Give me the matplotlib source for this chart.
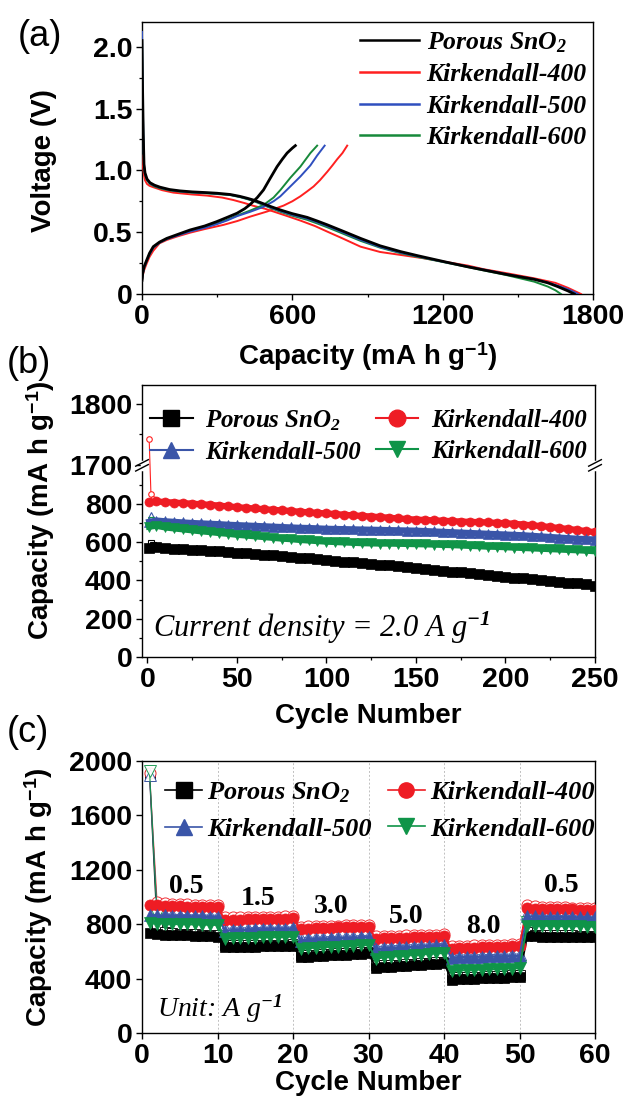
import numpy as np
import matplotlib
matplotlib.use("Agg")
import matplotlib.pyplot as plt
from matplotlib.lines import Line2D
from matplotlib.font_manager import FontProperties

plt.rcParams.update({
    "font.family": "Liberation Sans",
    "font.weight": "bold",
    "mathtext.fontset": "custom",
    "mathtext.rm": "Liberation Serif:italic",
    "mathtext.it": "Liberation Serif:italic",
    "mathtext.bf": "Liberation Serif:italic:bold",
    "mathtext.sf": "Liberation Sans:bold",
    "xtick.direction": "out",
    "ytick.direction": "out",
    "xtick.major.size": 4,
    "ytick.major.size": 4,
    "xtick.minor.size": 2.5,
    "ytick.minor.size": 2.5,
    "xtick.major.width": 1.0,
    "ytick.major.width": 1.0,
    "xtick.minor.width": 0.9,
    "ytick.minor.width": 0.9,
    "axes.linewidth": 1.0,
})

# ---------------- data ----------------
samples = ["Porous SnO$_\\mathbf{2}$", "Kirkendall-400", "Kirkendall-500", "Kirkendall-600"]
colors_a = ["#000000", "#ff2020", "#2f4fbf", "#17893a"]
colors_c = ["#000000", "#ee1c24", "#3a55a8", "#0f9448"]
markers = ["s", "o", "^", "v"]

# (a) discharge / charge profiles (capacity mAh/g, voltage V)
dis_cap_black = [0, 2, 5, 8, 12, 20, 32, 50, 72, 110, 152, 200, 259, 300, 352, 390, 419, 445, 472, 510, 552, 600, 659, 700, 739, 800, 872, 950, 1032, 1100, 1205, 1300, 1365, 1450, 1565, 1620, 1659, 1700, 1725]
dis_v_black = [2.05, 1.70, 1.30, 1.05, 0.98, 0.93, 0.90, 0.88, 0.864, 0.845, 0.834, 0.826, 0.82, 0.815, 0.805, 0.79, 0.775, 0.76, 0.74, 0.71, 0.68, 0.65, 0.62, 0.59, 0.56, 0.51, 0.45, 0.39, 0.343, 0.31, 0.262, 0.22, 0.194, 0.16, 0.119, 0.09, 0.06, 0.025, 0.0]
dis_cap_red = [0, 3, 8, 12, 20, 30, 45, 80, 125, 200, 259, 320, 365, 410, 445, 490, 525, 580, 632, 690, 739, 800, 872, 950, 1032, 1120, 1205, 1300, 1365, 1450, 1565, 1650, 1700, 1752]
dis_v_red = [1.12, 1.05, 0.96, 0.92, 0.89, 0.875, 0.864, 0.84, 0.82, 0.805, 0.796, 0.78, 0.76, 0.735, 0.713, 0.69, 0.667, 0.63, 0.594, 0.55, 0.505, 0.45, 0.383, 0.34, 0.316, 0.29, 0.262, 0.23, 0.20, 0.17, 0.127, 0.09, 0.05, 0.0]
dis_cap_blue = [0, 2, 5, 8, 12, 20, 32, 50, 72, 110, 152, 200, 259, 300, 352, 390, 419, 445, 472, 510, 552, 600, 659, 700, 739, 800, 872, 950, 1032, 1100, 1205, 1300, 1365, 1450, 1565, 1620, 1670, 1710, 1740]
dis_v_blue = [2.12, 1.72, 1.30, 1.04, 0.97, 0.925, 0.895, 0.875, 0.86, 0.842, 0.831, 0.823, 0.817, 0.812, 0.803, 0.787, 0.772, 0.756, 0.735, 0.703, 0.672, 0.64, 0.61, 0.58, 0.55, 0.50, 0.438, 0.38, 0.335, 0.305, 0.26, 0.222, 0.196, 0.162, 0.12, 0.093, 0.06, 0.03, 0.0]
dis_cap_green = [0, 2, 5, 8, 12, 20, 32, 50, 72, 110, 152, 200, 259, 300, 352, 390, 419, 445, 472, 510, 552, 600, 659, 700, 739, 800, 872, 950, 1032, 1100, 1205, 1300, 1365, 1450, 1565, 1620, 1650, 1672]
dis_v_green = [2.08, 1.70, 1.28, 1.03, 0.965, 0.92, 0.89, 0.87, 0.855, 0.838, 0.828, 0.82, 0.814, 0.808, 0.8, 0.784, 0.768, 0.752, 0.73, 0.698, 0.665, 0.633, 0.60, 0.57, 0.54, 0.49, 0.43, 0.375, 0.33, 0.30, 0.257, 0.218, 0.19, 0.155, 0.10, 0.06, 0.03, 0.0]

chg_cap_black = [0, 3, 8, 19, 30, 45, 70, 99, 140, 192, 250, 299, 340, 379, 410, 432, 460, 485, 510, 539, 560, 579, 600, 612]
chg_v_black = [0.11, 0.17, 0.22, 0.275, 0.33, 0.383, 0.42, 0.45, 0.48, 0.518, 0.55, 0.586, 0.62, 0.653, 0.69, 0.725, 0.78, 0.842, 0.93, 1.03, 1.09, 1.14, 1.18, 1.2]
chg_cap_red = [0, 3, 8, 19, 30, 45, 70, 99, 140, 192, 250, 325, 380, 432, 499, 565, 600, 632, 659, 685, 710, 740, 760, 779, 800, 819]
chg_v_red = [0.11, 0.15, 0.19, 0.248, 0.30, 0.35, 0.41, 0.437, 0.465, 0.496, 0.525, 0.559, 0.59, 0.626, 0.667, 0.715, 0.75, 0.79, 0.83, 0.87, 0.92, 0.99, 1.04, 1.09, 1.14, 1.2]
chg_cap_blue = [0, 3, 8, 19, 30, 45, 70, 99, 140, 192, 250, 299, 340, 380, 432, 485, 525, 552, 592, 632, 672, 699, 729]
chg_v_blue = [0.11, 0.16, 0.21, 0.27, 0.32, 0.375, 0.415, 0.445, 0.472, 0.505, 0.535, 0.565, 0.595, 0.63, 0.665, 0.705, 0.75, 0.79, 0.87, 0.95, 1.04, 1.12, 1.2]
chg_cap_green = [0, 3, 8, 19, 30, 45, 70, 99, 140, 192, 250, 299, 340, 380, 432, 485, 525, 552, 592, 632, 672, 699]
chg_v_green = [0.11, 0.16, 0.21, 0.27, 0.32, 0.375, 0.415, 0.445, 0.475, 0.51, 0.54, 0.57, 0.60, 0.635, 0.675, 0.72, 0.78, 0.84, 0.94, 1.03, 1.14, 1.2]

# (b) cycling at 2.0 A/g (cycle 1, then every 5th cycle)
cycles_b = [1] + list(range(5, 251, 5))
cap_b_black = [570, 572, 568, 566, 563, 560, 556, 554, 551, 548, 544, 541, 538, 534, 531, 527, 523, 518, 514, 510, 506, 502, 498, 494, 490, 486, 482, 478, 474, 470, 465, 460, 456, 451, 446, 441, 436, 431, 427, 422, 418, 414, 410, 406, 401, 396, 392, 388, 384, 379, 373]
cap_b_red = [808, 812, 808, 806, 803, 800, 797, 794, 790, 786, 782, 778, 775, 771, 768, 765, 762, 758, 755, 752, 749, 746, 742, 739, 736, 733, 730, 727, 723, 720, 717, 715, 713, 711, 709, 707, 705, 704, 702, 700, 698, 695, 691, 687, 683, 678, 673, 668, 663, 657, 651]
cap_b_blue = [705, 712, 708, 705, 702, 699, 697, 695, 693, 690, 688, 686, 684, 682, 680, 678, 676, 674, 673, 671, 669, 668, 667, 666, 665, 664, 663, 662, 661, 660, 659, 657, 655, 653, 651, 649, 647, 645, 643, 641, 639, 637, 635, 632, 629, 626, 623, 620, 617, 615, 613]
cap_b_green = [680, 685, 676, 671, 666, 661, 656, 652, 647, 643, 638, 634, 630, 626, 622, 618, 615, 611, 608, 605, 602, 600, 598, 596, 594, 593, 592, 592, 591, 590, 589, 588, 587, 585, 584, 582, 580, 578, 576, 575, 573, 571, 569, 567, 565, 563, 561, 559, 557, 555, 552]
# first discharge points (open symbols)
cyc_b_dis_red = [1, 2, 3]
dis_b_red = [1743, 848, 826]
cyc_b_dis = [2, 3]
dis_b_black = [597, 585]
dis_b_blue = [743, 722]
dis_b_green = [717, 695]

# (c) rate capability, cycles 1-60
cycles_c = list(range(1, 61))
chg_c_black = [733, 728, 724, 721, 719, 717, 715, 713, 711, 708,
               632, 633, 634, 635, 636, 637, 637, 638, 639, 640,
               556, 561, 564, 567, 570, 573, 576, 579, 582, 586,
               478, 485, 488, 491, 494, 497, 500, 504, 508, 512,
               393, 396, 398, 400, 402, 404, 406, 408, 410, 412,
               712, 710, 709, 708, 707, 707, 706, 706, 705, 705]
chg_c_red = [941, 938, 936, 934, 932, 930, 929, 927, 926, 924,
             831, 833, 834, 835, 836, 837, 838, 840, 841, 843,
             762, 768, 771, 773, 775, 776, 778, 779, 780, 782,
             690, 696, 698, 700, 702, 703, 705, 707, 709, 713,
             618, 623, 625, 627, 629, 631, 633, 635, 637, 640,
             917, 915, 913, 912, 911, 910, 909, 907, 906, 904]
chg_c_blue = [868, 866, 864, 862, 861, 860, 859, 858, 856, 855,
              752, 757, 759, 761, 763, 764, 765, 767, 768, 770,
              680, 689, 692, 694, 696, 698, 700, 702, 704, 706,
              615, 623, 626, 629, 632, 635, 638, 641, 644, 647,
              552, 558, 560, 561, 562, 563, 564, 565, 566, 568,
              858, 857, 856, 855, 855, 854, 853, 852, 851, 850]
chg_c_green = [806, 805, 803, 801, 800, 799, 798, 797, 795, 794,
               690, 696, 698, 700, 702, 703, 704, 705, 707, 708,
               615, 623, 627, 630, 633, 636, 639, 641, 644, 647,
               545, 556, 561, 565, 569, 573, 577, 581, 585, 588,
               455, 460, 462, 464, 466, 468, 470, 472, 474, 476,
               790, 789, 788, 787, 786, 785, 785, 784, 783, 782]
dis_c_black = [1890, 770, 740, 735, 731, 728, 726, 724, 722, 720,
               648, 646, 646, 647, 648, 648, 649, 650, 650, 651,
               575, 575, 577, 580, 583, 585, 588, 591, 594, 597,
               498, 498, 500, 503, 506, 509, 512, 515, 519, 522,
               415, 410, 411, 413, 415, 417, 419, 421, 423, 425,
               740, 722, 720, 719, 718, 717, 717, 716, 716, 715]
dis_c_red = [1910, 960, 955, 951, 948, 946, 944, 942, 940, 938,
             850, 850, 851, 852, 853, 854, 855, 856, 857, 858,
             782, 784, 786, 788, 789, 790, 791, 792, 793, 795,
             712, 713, 714, 716, 717, 718, 720, 721, 723, 725,
             640, 641, 643, 644, 646, 647, 648, 650, 651, 653,
             940, 932, 929, 927, 925, 923, 921, 920, 918, 917]
dis_c_blue = [1900, 880, 875, 873, 871, 870, 869, 868, 867, 866,
              770, 771, 773, 774, 775, 776, 777, 778, 779, 780,
              700, 703, 705, 707, 709, 711, 713, 714, 716, 718,
              636, 638, 641, 644, 647, 650, 652, 654, 657, 659,
              572, 573, 574, 575, 576, 577, 578, 579, 580, 581,
              880, 870, 868, 866, 865, 864, 863, 862, 861, 860]
dis_c_green = [1925, 868, 818, 814, 812, 810, 809, 808, 806, 805,
               712, 712, 713, 714, 715, 716, 717, 718, 719, 720,
               640, 640, 642, 645, 647, 650, 652, 654, 657, 659,
               570, 572, 576, 580, 584, 587, 591, 594, 597, 600,
               480, 476, 477, 479, 481, 483, 484, 486, 488, 490,
               815, 800, 799, 798, 797, 796, 795, 795, 794, 793]
rate_labels = ["0.5", "1.5", "3.0", "5.0", "8.0", "0.5"]
rate_label_x = [5.9, 15.4, 25.1, 35.0, 45.2, 55.6]
rate_label_y = [1076, 990, 929, 855, 782, 1088]

# ---------------- figure ----------------
W, H = 627, 1106
fig = plt.figure(figsize=(W / 100, H / 100), dpi=100)
axa = fig.add_axes([142 / W, 1 - 294 / H, 451 / W, 272 / H])
axb = fig.add_axes([142 / W, 1 - 657 / H, 453 / W, 272 / H])
axc = fig.add_axes([142 / W, 1 - 1033 / H, 453 / W, 272 / H])

TICK_FS = 20.5
LAB_FS = 20
leg_font = lambda s: FontProperties(family="Liberation Serif", style="italic", weight="bold", size=s)
ylab = "Capacity (mA h g$^{\\mathsf{-1}}$)"

for ax in (axa, axb, axc):
    ax.tick_params(labelsize=TICK_FS, pad=3)

# ---- (a)
dis_sets = [(dis_cap_black, dis_v_black), (dis_cap_red, dis_v_red), (dis_cap_blue, dis_v_blue), (dis_cap_green, dis_v_green)]
chg_sets = [(chg_cap_black, chg_v_black), (chg_cap_red, chg_v_red), (chg_cap_blue, chg_v_blue), (chg_cap_green, chg_v_green)]
for i in [1, 3, 2, 0]:
    lw = 2.0 if i == 0 else 1.4
    axa.plot(*dis_sets[i], color=colors_a[i], lw=lw, zorder=3 + (i == 0))
    axa.plot(*chg_sets[i], color=colors_a[i], lw=lw, zorder=3 + (i == 0))
axa.set_xlim(0, 1800)
axa.set_ylim(0, 2.2)
axa.set_xticks([0, 600, 1200, 1800])
axa.set_xticks([300, 900, 1500], minor=True)
axa.set_yticks([0, 0.5, 1.0, 1.5, 2.0])
axa.set_yticklabels(["0", "0.5", "1.0", "1.5", "2.0"])
axa.set_yticks([0.25, 0.75, 1.25, 1.75], minor=True)
axa.set_xlabel(ylab, fontsize=LAB_FS, fontweight="bold")
axa.set_ylabel("Voltage (V)", fontsize=LAB_FS, fontweight="bold")
axa.xaxis.set_label_coords(0.5, -0.232)
axa.xaxis.label.set_va("center")
axa.yaxis.set_label_coords(-0.217, 0.49)
axa.yaxis.label.set_va("center")
ha = [Line2D([], [], color=colors_a[i], lw=1.8) for i in range(4)]
axa.legend(ha, samples, loc="upper left", bbox_to_anchor=(0.483, 0.97), frameon=False,
           prop=leg_font(18.5), handlelength=2.3, handletextpad=0.3, labelspacing=0.33,
           borderpad=0, borderaxespad=0)

# ---- (b) with broken axis (piecewise scale)
K = 3.22
def fwd(y):
    y = np.asarray(y, float)
    return np.where(y <= 1000, y, np.where(y >= 1700, 1000.7 + (y - 1700) * K, 1000 + (y - 1000) * 0.001))
def inv(t):
    t = np.asarray(t, float)
    return np.where(t <= 1000, t, np.where(t >= 1000.7, 1700 + (t - 1000.7) / K, 1000 + (t - 1000) / 0.001))
axb.set_yscale("function", functions=(fwd, inv))
b_sets = [cap_b_black, cap_b_red, cap_b_blue, cap_b_green]
axb.plot(cyc_b_dis_red, dis_b_red, color=colors_a[1], lw=0.8, marker="o", ms=4,
         mfc="white", mec=colors_a[1], mew=0.8, zorder=2)
for i, d in [(0, dis_b_black), (2, dis_b_blue), (3, dis_b_green)]:
    axb.plot(cyc_b_dis, d, color=colors_a[i], lw=0.8, marker=markers[i], ms=5,
             mfc="white", mec=colors_c[i], mew=0.8, zorder=2)
for i in range(4):
    axb.plot(cycles_b, b_sets[i], color=colors_c[i], lw=4.5, marker=markers[i], ms=6.5,
             mec=colors_c[i], mew=0.5, zorder=3)
axb.set_xlim(-3, 250)
axb.set_ylim(0, 1830)
axb.set_xticks(range(0, 251, 50))
axb.set_xticks(range(25, 251, 50), minor=True)
axb.set_yticks([0, 200, 400, 600, 800, 1700, 1800])
axb.set_yticklabels(["0", "200", "400", "600", "800", "1700", "1800"])
axb.set_yticks([100, 300, 500, 700, 900, 1750], minor=True)
axb.set_xlabel("Cycle Number", fontsize=LAB_FS, fontweight="bold")
axb.set_ylabel(ylab, fontsize=LAB_FS, fontweight="bold")
axb.xaxis.set_label_coords(0.5, -0.217)
axb.xaxis.label.set_va("center")
axb.yaxis.set_label_coords(-0.223, 0.54)
axb.yaxis.label.set_va("center")
# break marks
yb = float(fwd(1000) / fwd(1830))
for xs in (0.0, 1.0):
    axb.plot([xs, xs], [yb - 0.012, yb + 0.012], transform=axb.transAxes, color="white",
             lw=2.5, clip_on=False, zorder=10)
    for off in (-0.009, 0.009):
        axb.plot([xs - 0.014, xs + 0.014], [yb + off - 0.012, yb + off + 0.012],
                 transform=axb.transAxes, color="black", lw=1.0, clip_on=False, zorder=11)
hb = [Line2D([], [], color=colors_c[i], lw=1.5, marker=markers[i], ms=12, mec=colors_c[i]) for i in range(4)]
order = [0, 2, 1, 3]
axb.legend([hb[i] for i in order], [samples[i] for i in order], ncol=2, loc="upper left",
           bbox_to_anchor=(0.018, 0.915), frameon=False, prop=leg_font(18),
           handlelength=1.7, handletextpad=0.5, columnspacing=0.6, labelspacing=0.32,
           borderpad=0, borderaxespad=0)
axb.text(0.024, 0.074, "Current density = 2.0 A g$^{-1}$", transform=axb.transAxes,
         fontsize=22, family="Liberation Serif", style="italic", fontweight="normal", va="baseline")

# ---- (c)
dis_c = [dis_c_black, dis_c_red, dis_c_blue, dis_c_green]
chg_c = [chg_c_black, chg_c_red, chg_c_blue, chg_c_green]
msz = [6.5, 8, 8, 8]
for i in range(4):
    axc.plot(cycles_c, dis_c[i], color=colors_c[i], lw=0.8, alpha=0.9, marker=markers[i], ms=msz[i],
             mfc="white", mec=colors_c[i], mew=0.7, zorder=2)
    axc.plot(cycles_c, chg_c[i], color=colors_c[i], lw=1.4, marker=markers[i], ms=msz[i],
             mec=colors_c[i], mew=0.5, zorder=3)
axc.set_xlim(0, 60)
axc.set_ylim(0, 2000)
axc.set_xticks(range(0, 61, 10))
axc.set_yticks(range(0, 2001, 400))
axc.grid(axis="x", ls=(0, (2, 2)), color="#c0c0c0", lw=0.7)
axc.set_axisbelow(True)
axc.set_xlabel("Cycle Number", fontsize=LAB_FS, fontweight="bold")
axc.set_ylabel(ylab, fontsize=LAB_FS, fontweight="bold")
axc.xaxis.set_label_coords(0.5, -0.184)
axc.xaxis.label.set_va("center")
axc.yaxis.set_label_coords(-0.228, 0.5)
axc.yaxis.label.set_va("center")
for lab, x, y in zip(rate_labels, rate_label_x, rate_label_y):
    axc.text(x, y, lab, ha="center", va="center", fontsize=20, family="Liberation Serif", fontweight="bold")
hc = [Line2D([], [], color=colors_c[i], lw=1.2, marker=markers[i], ms=11, mec=colors_c[i]) for i in range(4)]
axc.legend([hc[i] for i in order], [samples[i] for i in order], ncol=2, loc="upper left",
           bbox_to_anchor=(0.051, 0.93), frameon=False, prop=leg_font(19),
           handlelength=1.4, handletextpad=0.2, columnspacing=0.6, labelspacing=0.5,
           borderpad=0, borderaxespad=0)
axc.text(0.033, 0.06, "Unit: A g$^{-1}$", transform=axc.transAxes,
         fontsize=20, family="Liberation Serif", style="italic", fontweight="normal", va="baseline")

# panel labels
for lab, (x, y) in zip(["(a)", "(b)", "(c)"], [(40, 37), (29, 363), (28, 732)]):
    fig.text(x / W, 1 - y / H, lab, fontsize=26, fontweight="normal", ha="center", va="center")

fig.savefig("out.png", dpi=100)
